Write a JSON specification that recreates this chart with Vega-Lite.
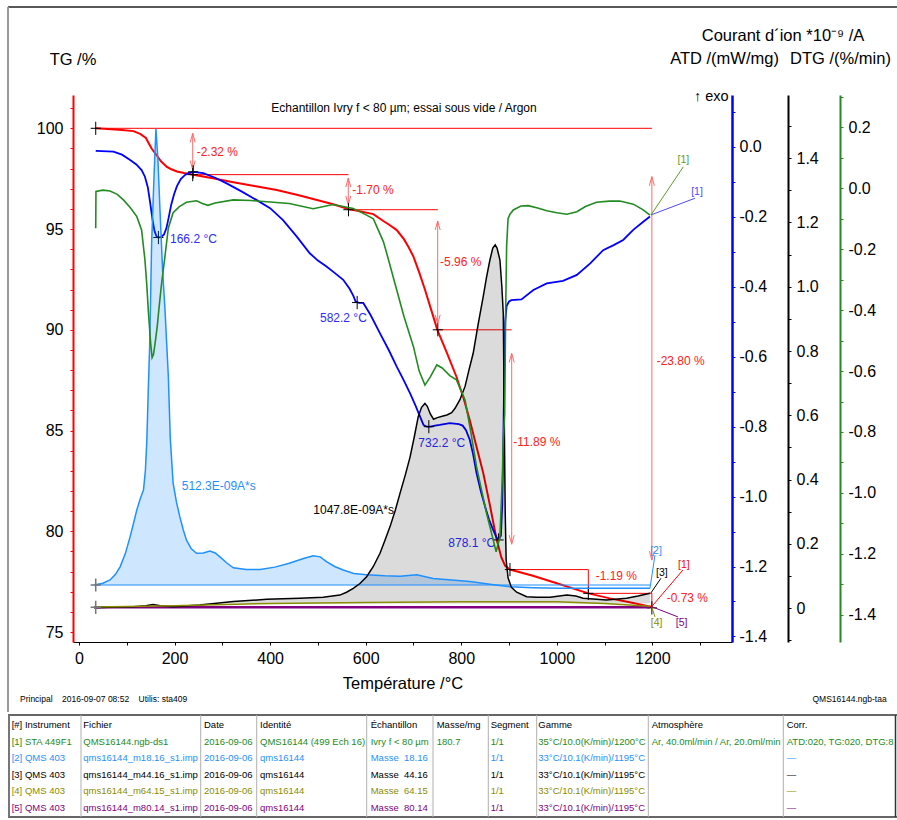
{
"$schema":"https://vega.github.io/schema/vega-lite/v6.json",
"autosize":{"type":"none"},
"padding":{"left":73,"top":95,"right":165,"bottom":178},
"width":659,"height":547,
"background":"white",
"config":{
 "view":{"stroke":null},
 "font":"Liberation Sans, Arial, sans-serif",
 "axis":{"grid":false,"labelFontSize":16,"titleFontSize":16.5,"titleFontWeight":"normal","labelColor":"#000000","titleColor":"#000000","tickSize":3,"labelOverlap":false,"labelBound":false,"labelFlush":false},
 "text":{"font":"Liberation Sans, Arial, sans-serif"}
},
"datasets":{
 "tg":[{"T":35,"v":100.0},{"T":60,"v":99.97},{"T":90,"v":99.92},{"T":114,"v":99.86},{"T":128,"v":99.72},{"T":140,"v":99.52},{"T":145,"v":99.3},{"T":152,"v":99.0},{"T":158,"v":98.8},{"T":163,"v":98.65},{"T":172,"v":98.35},{"T":184,"v":98.08},{"T":192,"v":97.98},{"T":205,"v":97.86},{"T":220,"v":97.78},{"T":239,"v":97.7},{"T":280,"v":97.52},{"T":323,"v":97.32},{"T":370,"v":97.12},{"T":414,"v":96.94},{"T":460,"v":96.68},{"T":498,"v":96.44},{"T":530,"v":96.24},{"T":564,"v":96.0},{"T":590,"v":95.87},{"T":616,"v":95.74},{"T":637,"v":95.4},{"T":650,"v":95.2},{"T":665,"v":94.95},{"T":680,"v":94.5},{"T":690,"v":94.1},{"T":700,"v":93.63},{"T":712,"v":92.85},{"T":724,"v":92.0},{"T":737,"v":91.0},{"T":750,"v":90.0},{"T":770,"v":88.85},{"T":790,"v":87.67},{"T":805,"v":86.6},{"T":818,"v":85.5},{"T":832,"v":84.2},{"T":846,"v":82.9},{"T":860,"v":81.3},{"T":874,"v":79.6},{"T":884,"v":78.7},{"T":892,"v":78.28},{"T":902,"v":78.1},{"T":950,"v":77.79},{"T":1000,"v":77.42},{"T":1066,"v":76.92},{"T":1111,"v":76.67},{"T":1150,"v":76.49},{"T":1199,"v":76.24}],
 "dtg":[{"T":35,"v":-0.131},{"T":35.5,"v":-0.01},{"T":50,"v":-0.006},{"T":65,"v":-0.009},{"T":80,"v":-0.02},{"T":93,"v":-0.038},{"T":108,"v":-0.065},{"T":121,"v":-0.093},{"T":131,"v":-0.137},{"T":138,"v":-0.235},{"T":142,"v":-0.32},{"T":145,"v":-0.4},{"T":150,"v":-0.51},{"T":153,"v":-0.556},{"T":156,"v":-0.545},{"T":160,"v":-0.5},{"T":164,"v":-0.45},{"T":167,"v":-0.4},{"T":173,"v":-0.31},{"T":179,"v":-0.235},{"T":187,"v":-0.13},{"T":197,"v":-0.08},{"T":210,"v":-0.06},{"T":225,"v":-0.046},{"T":246,"v":-0.041},{"T":258,"v":-0.05},{"T":270,"v":-0.056},{"T":285,"v":-0.048},{"T":323,"v":-0.038},{"T":360,"v":-0.04},{"T":393,"v":-0.044},{"T":440,"v":-0.05},{"T":490,"v":-0.067},{"T":532,"v":-0.053},{"T":574,"v":-0.066},{"T":602,"v":-0.088},{"T":616,"v":-0.1},{"T":623,"v":-0.125},{"T":637,"v":-0.175},{"T":644,"v":-0.213},{"T":665,"v":-0.334},{"T":680,"v":-0.42},{"T":700,"v":-0.52},{"T":712,"v":-0.6},{"T":724,"v":-0.646},{"T":735,"v":-0.62},{"T":749,"v":-0.58},{"T":760,"v":-0.59},{"T":776,"v":-0.615},{"T":790,"v":-0.629},{"T":808,"v":-0.695},{"T":820,"v":-0.8},{"T":832,"v":-0.914},{"T":853,"v":-1.067},{"T":867,"v":-1.155},{"T":873,"v":-1.193},{"T":881,"v":-1.144},{"T":886,"v":-0.95},{"T":888,"v":-0.826},{"T":891,"v":-0.74},{"T":893,"v":-0.4},{"T":895,"v":-0.19},{"T":898,"v":-0.1},{"T":902,"v":-0.085},{"T":909,"v":-0.071},{"T":925,"v":-0.058},{"T":940,"v":-0.057},{"T":960,"v":-0.065},{"T":979,"v":-0.074},{"T":1000,"v":-0.08},{"T":1021,"v":-0.085},{"T":1042,"v":-0.077},{"T":1060,"v":-0.06},{"T":1083,"v":-0.046},{"T":1110,"v":-0.042},{"T":1132,"v":-0.042},{"T":1160,"v":-0.052},{"T":1180,"v":-0.07},{"T":1195,"v":-0.088}],
 "atd":[{"T":35,"v":-0.011},{"T":72,"v":-0.013},{"T":90,"v":-0.022},{"T":107,"v":-0.037},{"T":120,"v":-0.05},{"T":131,"v":-0.066},{"T":138,"v":-0.085},{"T":144,"v":-0.115},{"T":149,"v":-0.16},{"T":154,"v":-0.209},{"T":158,"v":-0.24},{"T":162,"v":-0.255},{"T":166,"v":-0.259},{"T":172,"v":-0.257},{"T":178,"v":-0.25},{"T":183,"v":-0.232},{"T":188,"v":-0.2},{"T":193,"v":-0.165},{"T":199,"v":-0.135},{"T":205,"v":-0.112},{"T":213,"v":-0.092},{"T":222,"v":-0.08},{"T":230,"v":-0.074},{"T":239,"v":-0.071},{"T":260,"v":-0.075},{"T":285,"v":-0.088},{"T":309,"v":-0.104},{"T":340,"v":-0.127},{"T":372,"v":-0.152},{"T":400,"v":-0.175},{"T":427,"v":-0.209},{"T":455,"v":-0.255},{"T":483,"v":-0.304},{"T":500,"v":-0.325},{"T":518,"v":-0.342},{"T":535,"v":-0.36},{"T":553,"v":-0.38},{"T":566,"v":-0.405},{"T":574,"v":-0.425},{"T":579,"v":-0.442},{"T":586,"v":-0.446},{"T":595,"v":-0.446},{"T":610,"v":-0.48},{"T":630,"v":-0.533},{"T":648,"v":-0.58},{"T":665,"v":-0.628},{"T":680,"v":-0.668},{"T":693,"v":-0.705},{"T":705,"v":-0.742},{"T":714,"v":-0.772},{"T":721,"v":-0.795},{"T":728,"v":-0.8},{"T":736,"v":-0.8},{"T":745,"v":-0.797},{"T":755,"v":-0.795},{"T":776,"v":-0.79},{"T":795,"v":-0.793},{"T":803,"v":-0.797},{"T":810,"v":-0.81},{"T":818,"v":-0.838},{"T":825,"v":-0.88},{"T":832,"v":-0.933},{"T":841,"v":-0.985},{"T":850,"v":-1.029},{"T":858,"v":-1.065},{"T":867,"v":-1.096},{"T":874,"v":-1.117},{"T":878,"v":-1.124},{"T":883,"v":-1.112},{"T":886,"v":-1.02},{"T":888,"v":-0.86},{"T":890,"v":-0.64},{"T":892,"v":-0.5},{"T":895,"v":-0.455},{"T":900,"v":-0.442},{"T":905,"v":-0.438},{"T":926,"v":-0.436},{"T":951,"v":-0.409},{"T":979,"v":-0.39},{"T":1013,"v":-0.383},{"T":1042,"v":-0.366},{"T":1070,"v":-0.333},{"T":1097,"v":-0.295},{"T":1120,"v":-0.28},{"T":1139,"v":-0.266},{"T":1160,"v":-0.237},{"T":1181,"v":-0.214},{"T":1195,"v":-0.199}],
 "ms":[
  {"s":"m18","T":32,"v":0.0725},{"s":"m18","T":50,"v":0.078},{"s":"m18","T":65,"v":0.088},{"s":"m18","T":76,"v":0.105},{"s":"m18","T":86,"v":0.129},{"s":"m18","T":97,"v":0.17},{"s":"m18","T":107,"v":0.223},{"s":"m18","T":115,"v":0.27},{"s":"m18","T":121,"v":0.306},{"s":"m18","T":128,"v":0.34},{"s":"m18","T":135,"v":0.368},{"s":"m18","T":139,"v":0.43},{"s":"m18","T":142,"v":0.523},{"s":"m18","T":145,"v":0.68},{"s":"m18","T":148,"v":0.82},{"s":"m18","T":152,"v":1.135},{"s":"m18","T":157,"v":1.342},{"s":"m18","T":161,"v":1.49},{"s":"m18","T":165,"v":1.4},{"s":"m18","T":169.5,"v":1.238},{"s":"m18","T":175,"v":1.05},{"s":"m18","T":180,"v":0.928},{"s":"m18","T":187,"v":0.72},{"s":"m18","T":191,"v":0.53},{"s":"m18","T":197,"v":0.389},{"s":"m18","T":204,"v":0.33},{"s":"m18","T":211,"v":0.285},{"s":"m18","T":218,"v":0.245},{"s":"m18","T":225,"v":0.212},{"s":"m18","T":235,"v":0.185},{"s":"m18","T":246,"v":0.171},{"s":"m18","T":260,"v":0.172},{"s":"m18","T":274,"v":0.178},{"s":"m18","T":285,"v":0.172},{"s":"m18","T":295,"v":0.16},{"s":"m18","T":310,"v":0.14},{"s":"m18","T":323,"v":0.126},{"s":"m18","T":350,"v":0.121},{"s":"m18","T":379,"v":0.121},{"s":"m18","T":410,"v":0.128},{"s":"m18","T":440,"v":0.14},{"s":"m18","T":470,"v":0.155},{"s":"m18","T":490,"v":0.163},{"s":"m18","T":505,"v":0.16},{"s":"m18","T":518,"v":0.145},{"s":"m18","T":535,"v":0.13},{"s":"m18","T":553,"v":0.119},{"s":"m18","T":575,"v":0.108},{"s":"m18","T":602,"v":0.104},{"s":"m18","T":640,"v":0.101},{"s":"m18","T":672,"v":0.1},{"s":"m18","T":707,"v":0.104},{"s":"m18","T":741,"v":0.093},{"s":"m18","T":780,"v":0.088},{"s":"m18","T":818,"v":0.083},{"s":"m18","T":860,"v":0.075},{"s":"m18","T":902,"v":0.067},{"s":"m18","T":950,"v":0.064},{"s":"m18","T":1007,"v":0.062},{"s":"m18","T":1100,"v":0.062},{"s":"m18","T":1195,"v":0.062},
  {"s":"m44","T":32,"v":0.002},{"s":"m44","T":80,"v":0.004},{"s":"m44","T":114,"v":0.005},{"s":"m44","T":140,"v":0.008},{"s":"m44","T":155,"v":0.012},{"s":"m44","T":170,"v":0.008},{"s":"m44","T":197,"v":0.005},{"s":"m44","T":253,"v":0.01},{"s":"m44","T":323,"v":0.021},{"s":"m44","T":393,"v":0.028},{"s":"m44","T":462,"v":0.031},{"s":"m44","T":511,"v":0.034},{"s":"m44","T":546,"v":0.041},{"s":"m44","T":560,"v":0.05},{"s":"m44","T":574,"v":0.062},{"s":"m44","T":588,"v":0.077},{"s":"m44","T":602,"v":0.098},{"s":"m44","T":616,"v":0.13},{"s":"m44","T":630,"v":0.171},{"s":"m44","T":640,"v":0.21},{"s":"m44","T":651,"v":0.254},{"s":"m44","T":662,"v":0.305},{"s":"m44","T":672,"v":0.358},{"s":"m44","T":683,"v":0.415},{"s":"m44","T":693,"v":0.471},{"s":"m44","T":702,"v":0.535},{"s":"m44","T":710,"v":0.596},{"s":"m44","T":717,"v":0.625},{"s":"m44","T":724,"v":0.637},{"s":"m44","T":729,"v":0.628},{"s":"m44","T":735,"v":0.605},{"s":"m44","T":742,"v":0.588},{"s":"m44","T":750,"v":0.593},{"s":"m44","T":762,"v":0.598},{"s":"m44","T":770,"v":0.601},{"s":"m44","T":780,"v":0.608},{"s":"m44","T":787,"v":0.622},{"s":"m44","T":797,"v":0.648},{"s":"m44","T":808,"v":0.69},{"s":"m44","T":816,"v":0.74},{"s":"m44","T":825,"v":0.793},{"s":"m44","T":835,"v":0.88},{"s":"m44","T":846,"v":0.969},{"s":"m44","T":853,"v":1.03},{"s":"m44","T":860,"v":1.083},{"s":"m44","T":866,"v":1.12},{"s":"m44","T":871,"v":1.13},{"s":"m44","T":875,"v":1.12},{"s":"m44","T":881,"v":1.083},{"s":"m44","T":885,"v":1.0},{"s":"m44","T":888,"v":0.917},{"s":"m44","T":890,"v":0.6},{"s":"m44","T":892,"v":0.3},{"s":"m44","T":894,"v":0.15},{"s":"m44","T":898,"v":0.095},{"s":"m44","T":905,"v":0.065},{"s":"m44","T":916,"v":0.05},{"s":"m44","T":937,"v":0.036},{"s":"m44","T":958,"v":0.034},{"s":"m44","T":986,"v":0.034},{"s":"m44","T":1021,"v":0.041},{"s":"m44","T":1040,"v":0.038},{"s":"m44","T":1055,"v":0.031},{"s":"m44","T":1104,"v":0.026},{"s":"m44","T":1146,"v":0.031},{"s":"m44","T":1170,"v":0.038},{"s":"m44","T":1195,"v":0.047},
  {"s":"m64","T":32,"v":0.004},{"s":"m64","T":200,"v":0.008},{"s":"m64","T":400,"v":0.015},{"s":"m64","T":600,"v":0.018},{"s":"m64","T":800,"v":0.02},{"s":"m64","T":1000,"v":0.02},{"s":"m64","T":1100,"v":0.015},{"s":"m64","T":1195,"v":0.006},
  {"s":"m80","T":32,"v":0.003},{"s":"m80","T":400,"v":0.003},{"s":"m80","T":800,"v":0.003},{"s":"m80","T":1195,"v":0.003}
 ],
 "tgLines":[{"a":35,"b":1199,"p":100,"q":100},{"a":238,"b":564,"p":97.7,"q":97.7},{"a":564,"b":751,"p":95.96,"q":95.96},{"a":751,"b":905.6,"p":90.0,"q":90.0},{"a":902,"b":1066,"p":78.1,"q":78.1},{"a":1066,"b":1066,"p":78.1,"q":76.92},{"a":1066,"b":1199,"p":76.92,"q":76.92},{"a":1199,"b":1199,"p":76.92,"q":76.2}],
 "shafts":[{"a":238,"p":99.75,"q":97.95},{"a":563.6,"p":97.53,"q":96.2},{"a":750.7,"p":95.4,"q":90.3},{"a":905.6,"p":88.83,"q":79.36},{"a":1199,"p":97.6,"q":78.57}],
 "heads":[{"T":238,"v":99.75,"d":"up"},{"T":238,"v":97.95,"d":"down"},{"T":563.6,"v":97.53,"d":"up"},{"T":563.6,"v":96.2,"d":"down"},{"T":750.7,"v":95.4,"d":"up"},{"T":750.7,"v":90.3,"d":"down"},{"T":905.6,"v":88.83,"d":"up"},{"T":905.6,"v":79.36,"d":"down"},{"T":1199,"v":97.6,"d":"up"},{"T":1199,"v":78.57,"d":"down"}],
 "crossTG":[{"T":35,"v":100},{"T":238,"v":97.7},{"T":564,"v":95.96},{"T":751,"v":90.0},{"T":902,"v":78.1},{"T":1066,"v":76.92},{"T":1199,"v":76.2}],
 "crossATD":[{"T":166.2,"v":-0.259},{"T":239,"v":-0.071},{"T":582.2,"v":-0.445},{"T":732.2,"v":-0.8},{"T":878.1,"v":-1.124}],
 "crossMS":[{"T":35,"v":0.0725},{"T":35,"v":0.003}],
 "tgText":[{"T":246.3,"v":98.81,"t":"-2.32 %"},{"T":572,"v":96.94,"t":"-1.70 %"},{"T":755.5,"v":93.38,"t":"-5.96 %"},{"T":909,"v":84.45,"t":"-11.89 %"},{"T":1209,"v":88.47,"t":"-23.80 %"},{"T":1081.4,"v":77.8,"t":"-1.19 %"},{"T":1230,"v":76.7,"t":"-0.73 %"}],
 "atdText":[{"T":190.5,"v":-0.264,"t":"166.2 °C"},{"T":504.4,"v":-0.49,"t":"582.2 °C"},{"T":710.1,"v":-0.8476,"t":"732.2 °C"},{"T":773,"v":-1.1336,"t":"878.1 °C"}],
 "msText":[{"T":215,"v":0.38,"t":"512.3E-09A*s","s":"m18"},{"T":490.4,"v":0.3057,"t":"1047.8E-09A*s","s":"m44"}],
 "leaders":[{"a":1197.2,"b":1264.8,"p":95.7,"q":98.09,"s":"DTGl"},{"a":1197.2,"b":1289.2,"p":95.7,"q":96.53,"s":"ATDl"},{"a":1195,"b":1205.5,"p":77.17,"q":78.82,"s":"m18"},{"a":1197,"b":1218,"p":76.94,"q":77.67,"s":"m44"},{"a":1198.6,"b":1264,"p":76.26,"q":78.08,"s":"TG"},{"a":1198.6,"b":1205.5,"p":76.26,"q":75.75,"s":"m64"},{"a":1198.6,"b":1253.6,"p":76.26,"q":75.75,"s":"m80"}],
 "tags":[{"T":1265,"v":98.43,"t":"[1]","s":"DTGl"},{"T":1293.4,"v":96.85,"t":"[1]","s":"ATDl"},{"T":1207.7,"v":79.0,"t":"[2]","s":"m18"},{"T":1220,"v":77.92,"t":"[3]","s":"m44"},{"T":1266,"v":78.33,"t":"[1]","s":"TG"},{"T":1209,"v":75.43,"t":"[4]","s":"m64"},{"T":1261.4,"v":75.43,"t":"[5]","s":"m80"}],
 "table":[
  {"r":0,"s":"hdr","inst":"[#] Instrument","fich":"Fichier","date":"Date","ident":"Identité","ech":"Échantillon","masse":"Masse/mg","seg":"Segment","gamme":"Gamme","atmo":"Atmosphère","corr":"Corr."},
  {"r":1,"s":"sta","inst":"[1] STA 449F1","fich":"QMS16144.ngb-ds1","date":"2016-09-06","ident":"QMS16144 (499 Ech 16)","ech":"Ivry f < 80 µm","masse":"180.7","seg":"1/1","gamme":"35°C/10.0(K/min)/1200°C","atmo":"Ar, 40.0ml/min / Ar, 20.0ml/min","corr":"ATD:020, TG:020, DTG:8"},
  {"r":2,"s":"m18","inst":"[2] QMS 403","fich":"qms16144_m18.16_s1.imp","date":"2016-09-06","ident":"qms16144","ech":"Masse\u00a0\u00a018.16","masse":"","seg":"1/1","gamme":"33°C/10.1(K/min)/1195°C","atmo":"","corr":"—"},
  {"r":3,"s":"m44","inst":"[3] QMS 403","fich":"qms16144_m44.16_s1.imp","date":"2016-09-06","ident":"qms16144","ech":"Masse\u00a0\u00a044.16","masse":"","seg":"1/1","gamme":"33°C/10.1(K/min)/1195°C","atmo":"","corr":"—"},
  {"r":4,"s":"m64","inst":"[4] QMS 403","fich":"qms16144_m64.15_s1.imp","date":"2016-09-06","ident":"qms16144","ech":"Masse\u00a0\u00a064.15","masse":"","seg":"1/1","gamme":"33°C/10.1(K/min)/1195°C","atmo":"","corr":"—"},
  {"r":5,"s":"m80","inst":"[5] QMS 403","fich":"qms16144_m80.14_s1.imp","date":"2016-09-06","ident":"qms16144","ech":"Masse\u00a0\u00a080.14","masse":"","seg":"1/1","gamme":"33°C/10.1(K/min)/1195°C","atmo":"","corr":"—"}
 ]
},
"layer":[
 {
  "layer":[
   {"layer":[
    {"data":{"values":[{}]},"mark":{"type":"rule","color":"#222222","strokeWidth":1.5},"encoding":{"x":{"datum":-148.6,"type":"quantitative"},"x2":{"datum":1712},"y":{"datum":106.02,"type":"quantitative"}}},
    {"data":{"values":[{}]},"mark":{"type":"rule","color":"#999999","strokeWidth":2},"encoding":{"x":{"datum":-148.6,"type":"quantitative"},"y":{"datum":106.02,"type":"quantitative"},"y2":{"datum":71.03}}},
    {"data":{"name":"tg"},"mark":{"type":"line","color":"#FF0000","strokeWidth":2},
     "encoding":{
      "x":{"field":"T","type":"quantitative","scale":{"domain":[-12.56,1366.7],"nice":false,"zero":false},
           "axis":{"orient":"bottom","values":[0,100,200,300,400,500,600,700,800,900,1000,1100,1200,1300],"tickCount":100,"format":"d","labelExpr":"datum.value % 200 == 0 ? datum.label : ''","labelOverlap":false,"title":"Température /°C","titleY":46.6,"titleBaseline":"alphabetic","domainColor":"#000000","domainWidth":1,"tickColor":"#000000","labelPadding":5}},
      "y":{"field":"v","type":"quantitative","scale":{"domain":[74.506,101.653],"nice":false,"zero":false},
           "axis":{"orient":"left","values":[75,76,77,78,79,80,81,82,83,84,85,86,87,88,89,90,91,92,93,94,95,96,97,98,99,100,101],"tickCount":100,"format":"d","labelExpr":"datum.value % 5 == 0 ? datum.label : ''","labelOverlap":false,"title":"TG /%","titleAngle":0,"titleAlign":"center","titleBaseline":"alphabetic","titleX":-0.5,"titleY":-31,"domainColor":"#FF0000","domainWidth":2,"tickColor":"#FF0000","labelPadding":7}}
     }},
    {"data":{"name":"tgLines"},"mark":{"type":"rule","color":"#FF0000","strokeWidth":1},"encoding":{"x":{"field":"a","type":"quantitative"},"x2":{"field":"b"},"y":{"field":"p","type":"quantitative"},"y2":{"field":"q"}}},
    {"data":{"name":"shafts"},"mark":{"type":"rule","color":"#FF6A6A","strokeWidth":1},"encoding":{"x":{"field":"a","type":"quantitative"},"y":{"field":"p","type":"quantitative"},"y2":{"field":"q"}}},
    {"data":{"name":"heads"},"mark":{"type":"point","filled":false,"color":"#FF6A6A","strokeWidth":1,"size":100,"opacity":1},"encoding":{"x":{"field":"T","type":"quantitative"},"y":{"field":"v","type":"quantitative"},"shape":{"field":"d","type":"nominal","scale":{"domain":["up","down"],"range":["M-0.5,1.8L0,0L0.5,1.8","M-0.5,-1.8L0,0L0.5,-1.8"]},"legend":null}}},
    {"data":{"name":"crossTG"},"mark":{"type":"point","filled":false,"color":"#000000","strokeWidth":1,"size":144,"opacity":1,"shape":"M-0.85,0L0.85,0M0,-1.1L0,1.1"},"encoding":{"x":{"field":"T","type":"quantitative"},"y":{"field":"v","type":"quantitative"}}},
    {"data":{"name":"tgText"},"mark":{"type":"text","align":"left","baseline":"middle","fontSize":12,"color":"#FF2020"},"encoding":{"x":{"field":"T","type":"quantitative"},"y":{"field":"v","type":"quantitative"},"text":{"field":"t"}}},
    {"data":{"name":"leaders"},"mark":{"type":"rule","strokeWidth":1},"encoding":{"x":{"field":"a","type":"quantitative"},"x2":{"field":"b"},"y":{"field":"p","type":"quantitative"},"y2":{"field":"q"},"color":{"field":"s","type":"nominal","legend":null}}},
    {"data":{"name":"tags"},"mark":{"type":"text","align":"center","baseline":"middle","fontSize":10.5},"encoding":{"x":{"field":"T","type":"quantitative"},"y":{"field":"v","type":"quantitative"},"text":{"field":"t"},"color":{"field":"s","type":"nominal","legend":null}}},
    {"data":{"values":[{"T":680.2,"v":100.99,"t":"Echantillon Ivry f < 80 µm; essai sous vide / Argon"}]},"mark":{"type":"text","align":"center","baseline":"middle","fontSize":12,"color":"#000000"},"encoding":{"x":{"field":"T","type":"quantitative"},"y":{"field":"v","type":"quantitative"},"text":{"field":"t"}}},
    {"data":{"values":[{"T":1287,"v":101.55,"t":"↑ exo"}]},"mark":{"type":"text","align":"left","baseline":"middle","fontSize":14.5,"color":"#000000"},"encoding":{"x":{"field":"T","type":"quantitative"},"y":{"field":"v","type":"quantitative"},"text":{"field":"t"}}},
    {"data":{"values":[{"T":-123.5,"v":71.68,"t":"Principal\u00a0\u00a0\u00a0\u00a02016-09-07 08:52\u00a0\u00a0\u00a0\u00a0Utilis: sta409"}]},"mark":{"type":"text","align":"left","baseline":"middle","fontSize":8.5,"color":"#000000"},"encoding":{"x":{"field":"T","type":"quantitative"},"y":{"field":"v","type":"quantitative"},"text":{"field":"t"}}},
    {"data":{"values":[{"T":1690.4,"v":71.68,"t":"QMS16144.ngb-taa"}]},"mark":{"type":"text","align":"right","baseline":"middle","fontSize":8.5,"color":"#000000"},"encoding":{"x":{"field":"T","type":"quantitative"},"y":{"field":"v","type":"quantitative"},"text":{"field":"t"}}}
   ]},
   {"layer":[
    {"data":{"name":"atd"},"mark":{"type":"line","color":"#0000FF","strokeWidth":1.8},
     "encoding":{
      "x":{"field":"T","type":"quantitative"},
      "y":{"field":"v","type":"quantitative","scale":{"domain":[-1.4159,0.1487],"nice":false,"zero":false},
           "axis":{"orient":"right","offset":0,"values":[-1.4,-1.3,-1.2,-1.1,-1.0,-0.9,-0.8,-0.7,-0.6,-0.5,-0.4,-0.3,-0.2,-0.1,0,0.1],"tickCount":100,"labelExpr":"abs(round(datum.value*10)) % 2 == 0 ? replace(format(datum.value, '.1f'), '\u2212', '-') : ''","labelOverlap":false,"title":"ATD /(mW/mg)","titleAngle":0,"titleAlign":"center","titleBaseline":"alphabetic","titleX":-8,"titleY":-31.7,"domainColor":"#0000FF","domainWidth":2.5,"tickColor":"#0000FF","labelPadding":4}}
     }},
    {"data":{"name":"crossATD"},"mark":{"type":"point","filled":false,"color":"#000000","strokeWidth":1,"size":144,"opacity":1,"shape":"M-0.85,0L0.85,0M0,-1.1L0,1.1"},"encoding":{"x":{"field":"T","type":"quantitative"},"y":{"field":"v","type":"quantitative"}}},
    {"data":{"name":"atdText"},"mark":{"type":"text","align":"left","baseline":"middle","fontSize":12,"color":"#2B2BFF"},"encoding":{"x":{"field":"T","type":"quantitative"},"y":{"field":"v","type":"quantitative"},"text":{"field":"t"}}}
   ]},
   {"layer":[
    {"data":{"name":"ms"},"transform":[{"filter":"datum.s == 'm18' && datum.T <= 880"}],"mark":{"type":"area","color":"#1E90FF","opacity":0.22},
     "encoding":{
      "x":{"field":"T","type":"quantitative"},
      "y":{"field":"v","type":"quantitative","scale":{"domain":[-0.1048,1.5961],"nice":false,"zero":false},
           "axis":{"orient":"right","offset":56,"values":[-0.1,0,0.1,0.2,0.3,0.4,0.5,0.6,0.7,0.8,0.9,1.0,1.1,1.2,1.3,1.4,1.5],"tickCount":100,"labelExpr":"abs(round(datum.value*10)) % 2 == 0 ? (datum.value == 0 ? '0' : format(datum.value, '.1f')) : ''","labelOverlap":false,"title":"Courant d´ion *10⁻⁹ /A","titleAngle":0,"titleAlign":"center","titleBaseline":"alphabetic","titleX":-5.5,"titleY":-55,"domainColor":"#000000","domainWidth":2,"tickColor":"#000000","labelPadding":5}},
      "y2":{"datum":0.0725}
     }},
    {"data":{"name":"ms"},"transform":[{"filter":"datum.s == 'm44' && datum.T >= 250"}],"mark":{"type":"area","color":"#000000","opacity":0.14},"encoding":{"x":{"field":"T","type":"quantitative"},"y":{"field":"v","type":"quantitative"},"y2":{"datum":0.015}}},
    {"data":{"values":[{}]},"mark":{"type":"rule","color":"#1E90FF","strokeWidth":1.2},"encoding":{"x":{"datum":32,"type":"quantitative"},"x2":{"datum":1195},"y":{"datum":0.0725,"type":"quantitative"}}},
    {"data":{"name":"ms"},"transform":[{"filter":"datum.s == 'm80'"}],"mark":{"type":"line","color":"#800080","strokeWidth":2.5},"encoding":{"x":{"field":"T","type":"quantitative"},"y":{"field":"v","type":"quantitative"}}},
    {"data":{"name":"ms"},"transform":[{"filter":"datum.s != 'm80'"}],"mark":{"type":"line","strokeWidth":1.5},"encoding":{"x":{"field":"T","type":"quantitative"},"y":{"field":"v","type":"quantitative"},
      "color":{"field":"s","type":"nominal","legend":null,"scale":{"domain":["TG","DTG","DTGl","ATD","ATDl","m18","m44","m64","m80","hdr","sta"],"range":["#FF0000","#228B22","#5B9E2B","#0000FF","#4A4AFF","#1E90FF","#000000","#8B8B00","#800080","#000000","#228B22"]}}}},
    {"data":{"name":"crossMS"},"mark":{"type":"point","filled":false,"color":"#777777","strokeWidth":1.5,"size":144,"opacity":1,"shape":"M-0.85,0L0.85,0M0,-1.1L0,1.1"},"encoding":{"x":{"field":"T","type":"quantitative"},"y":{"field":"v","type":"quantitative"}}},
    {"data":{"name":"msText"},"mark":{"type":"text","align":"left","baseline":"middle","fontSize":12},"encoding":{"x":{"field":"T","type":"quantitative"},"y":{"field":"v","type":"quantitative"},"text":{"field":"t"},"color":{"field":"s","type":"nominal","legend":null}}}
   ]},
   {"layer":[
    {"data":{"name":"dtg"},"mark":{"type":"line","color":"#228B22","strokeWidth":1.6},
     "encoding":{
      "x":{"field":"T","type":"quantitative"},
      "y":{"field":"v","type":"quantitative","scale":{"domain":[-1.4895,0.3063],"nice":false,"zero":false},
           "axis":{"orient":"right","offset":108,"values":[-1.4,-1.3,-1.2,-1.1,-1.0,-0.9,-0.8,-0.7,-0.6,-0.5,-0.4,-0.3,-0.2,-0.1,0,0.1,0.2,0.3],"tickCount":100,"labelExpr":"abs(round(datum.value*10)) % 2 == 0 ? replace(format(datum.value, '.1f'), '\u2212', '-') : ''","labelOverlap":false,"title":"DTG /(%/min)","titleAngle":0,"titleAlign":"center","titleBaseline":"alphabetic","titleX":0,"titleY":-31.7,"domainColor":"#228B22","domainWidth":2,"tickColor":"#228B22","labelPadding":5}}
     }}
   ]}
  ],
  "resolve":{"scale":{"y":"independent"}}
 },
 {
  "data":{"name":"table"},
  "layer":[
   {"data":{"values":[{}]},"mark":{"type":"rule","color":"#333333","strokeWidth":1.5},"encoding":{"x":{"datum":8,"type":"quantitative","scale":{"domain":[0,897],"range":[-73,824],"nice":false,"zero":false},"axis":null},"x2":{"datum":897},"y":{"datum":-0.6,"type":"quantitative","scale":{"domain":[0,5],"range":[630,713],"nice":false,"zero":false},"axis":null}}},
   {"data":{"values":[{}]},"mark":{"type":"rule","color":"#333333","strokeWidth":1.5},"encoding":{"x":{"datum":8,"type":"quantitative","axis":null},"x2":{"datum":897},"y":{"datum":5.54,"type":"quantitative","axis":null}}},
   {"data":{"values":[{}]},"mark":{"type":"rule","color":"#777777","strokeWidth":2},"encoding":{"x":{"datum":9,"type":"quantitative","axis":null},"y":{"datum":-0.6,"type":"quantitative","axis":null},"y2":{"datum":5.54}}},
   {"data":{"values":[{}]},"mark":{"type":"rule","color":"#b0b0b0","strokeWidth":1},"encoding":{"x":{"datum":81,"type":"quantitative","axis":null},"y":{"datum":-0.6,"type":"quantitative","axis":null},"y2":{"datum":5.54}}},
   {"data":{"values":[{}]},"mark":{"type":"rule","color":"#b0b0b0","strokeWidth":1},"encoding":{"x":{"datum":200.7,"type":"quantitative","axis":null},"y":{"datum":-0.6,"type":"quantitative","axis":null},"y2":{"datum":5.54}}},
   {"data":{"values":[{}]},"mark":{"type":"rule","color":"#b0b0b0","strokeWidth":1},"encoding":{"x":{"datum":256.7,"type":"quantitative","axis":null},"y":{"datum":-0.6,"type":"quantitative","axis":null},"y2":{"datum":5.54}}},
   {"data":{"values":[{}]},"mark":{"type":"rule","color":"#b0b0b0","strokeWidth":1},"encoding":{"x":{"datum":366.7,"type":"quantitative","axis":null},"y":{"datum":-0.6,"type":"quantitative","axis":null},"y2":{"datum":5.54}}},
   {"data":{"values":[{}]},"mark":{"type":"rule","color":"#b0b0b0","strokeWidth":1},"encoding":{"x":{"datum":433,"type":"quantitative","axis":null},"y":{"datum":-0.6,"type":"quantitative","axis":null},"y2":{"datum":5.54}}},
   {"data":{"values":[{}]},"mark":{"type":"rule","color":"#b0b0b0","strokeWidth":1},"encoding":{"x":{"datum":488.3,"type":"quantitative","axis":null},"y":{"datum":-0.6,"type":"quantitative","axis":null},"y2":{"datum":5.54}}},
   {"data":{"values":[{}]},"mark":{"type":"rule","color":"#b0b0b0","strokeWidth":1},"encoding":{"x":{"datum":536.7,"type":"quantitative","axis":null},"y":{"datum":-0.6,"type":"quantitative","axis":null},"y2":{"datum":5.54}}},
   {"data":{"values":[{}]},"mark":{"type":"rule","color":"#b0b0b0","strokeWidth":1},"encoding":{"x":{"datum":648.3,"type":"quantitative","axis":null},"y":{"datum":-0.6,"type":"quantitative","axis":null},"y2":{"datum":5.54}}},
   {"data":{"values":[{}]},"mark":{"type":"rule","color":"#b0b0b0","strokeWidth":1},"encoding":{"x":{"datum":783.3,"type":"quantitative","axis":null},"y":{"datum":-0.6,"type":"quantitative","axis":null},"y2":{"datum":5.54}}},
   {"data":{"values":[{}]},"mark":{"type":"rule","color":"#333333","strokeWidth":1.5},"encoding":{"x":{"datum":895.5,"type":"quantitative","axis":null},"y":{"datum":-0.6,"type":"quantitative","axis":null},"y2":{"datum":5.54}}},
   {"mark":{"type":"text","align":"left","baseline":"middle","fontSize":9.5},"encoding":{"x":{"datum":11.7,"type":"quantitative","axis":null},"y":{"field":"r","type":"quantitative","axis":null},"text":{"field":"inst"},"color":{"field":"s","type":"nominal","legend":null}}},
   {"mark":{"type":"text","align":"left","baseline":"middle","fontSize":9.5},"encoding":{"x":{"datum":83.3,"type":"quantitative","axis":null},"y":{"field":"r","type":"quantitative","axis":null},"text":{"field":"fich"},"color":{"field":"s","type":"nominal","legend":null}}},
   {"mark":{"type":"text","align":"left","baseline":"middle","fontSize":9.5},"encoding":{"x":{"datum":204,"type":"quantitative","axis":null},"y":{"field":"r","type":"quantitative","axis":null},"text":{"field":"date"},"color":{"field":"s","type":"nominal","legend":null}}},
   {"mark":{"type":"text","align":"left","baseline":"middle","fontSize":9.5},"encoding":{"x":{"datum":260,"type":"quantitative","axis":null},"y":{"field":"r","type":"quantitative","axis":null},"text":{"field":"ident"},"color":{"field":"s","type":"nominal","legend":null}}},
   {"mark":{"type":"text","align":"left","baseline":"middle","fontSize":9.5},"encoding":{"x":{"datum":370.7,"type":"quantitative","axis":null},"y":{"field":"r","type":"quantitative","axis":null},"text":{"field":"ech"},"color":{"field":"s","type":"nominal","legend":null}}},
   {"mark":{"type":"text","align":"left","baseline":"middle","fontSize":9.5},"encoding":{"x":{"datum":436.7,"type":"quantitative","axis":null},"y":{"field":"r","type":"quantitative","axis":null},"text":{"field":"masse"},"color":{"field":"s","type":"nominal","legend":null}}},
   {"mark":{"type":"text","align":"left","baseline":"middle","fontSize":9.5},"encoding":{"x":{"datum":490.7,"type":"quantitative","axis":null},"y":{"field":"r","type":"quantitative","axis":null},"text":{"field":"seg"},"color":{"field":"s","type":"nominal","legend":null}}},
   {"mark":{"type":"text","align":"left","baseline":"middle","fontSize":9.5},"encoding":{"x":{"datum":538.3,"type":"quantitative","axis":null},"y":{"field":"r","type":"quantitative","axis":null},"text":{"field":"gamme"},"color":{"field":"s","type":"nominal","legend":null}}},
   {"mark":{"type":"text","align":"left","baseline":"middle","fontSize":9.5},"encoding":{"x":{"datum":651.7,"type":"quantitative","axis":null},"y":{"field":"r","type":"quantitative","axis":null},"text":{"field":"atmo"},"color":{"field":"s","type":"nominal","legend":null}}},
   {"mark":{"type":"text","align":"left","baseline":"middle","fontSize":9.5},"encoding":{"x":{"datum":786.7,"type":"quantitative","axis":null},"y":{"field":"r","type":"quantitative","axis":null},"text":{"field":"corr"},"color":{"field":"s","type":"nominal","legend":null}}}
  ]
 }
],
"resolve":{"scale":{"x":"independent","y":"independent"}}
}
